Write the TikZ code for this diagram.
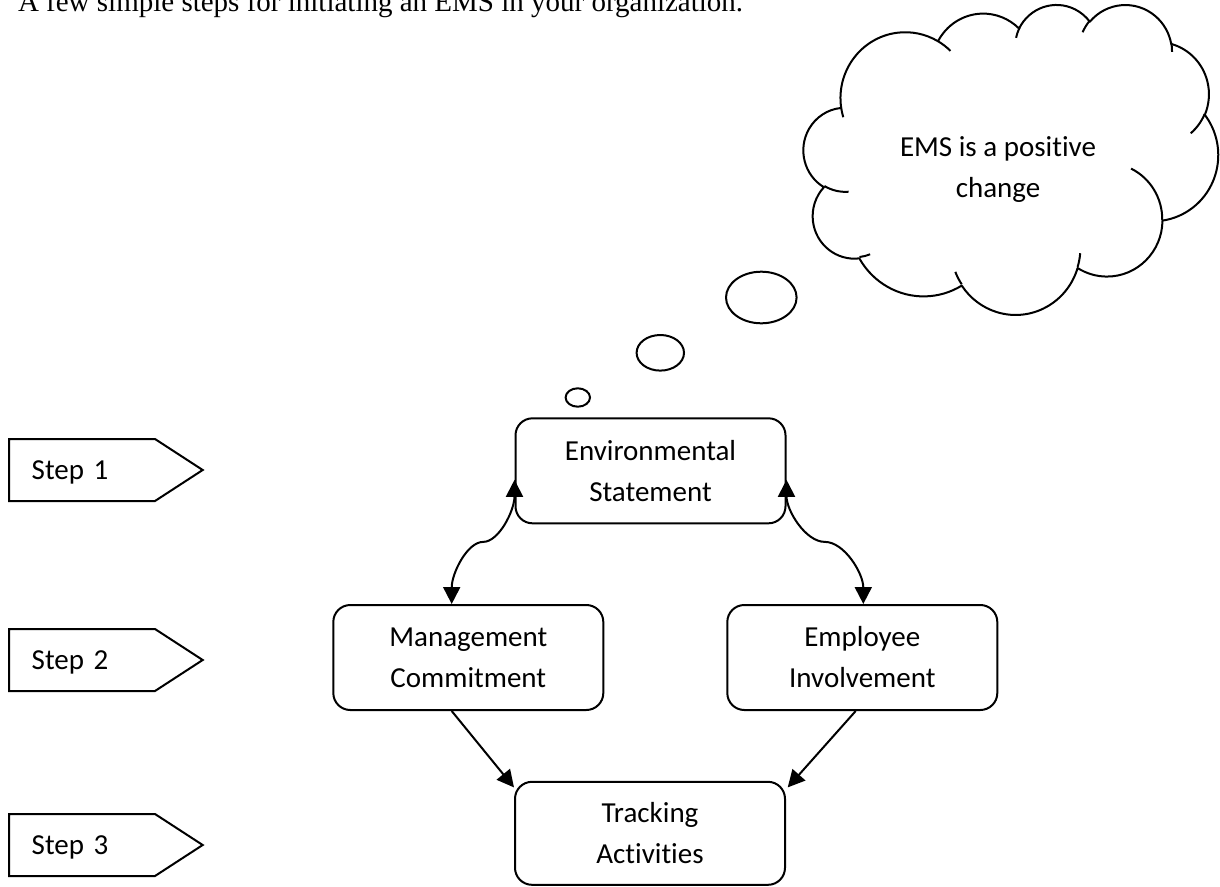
\documentclass[tikz,border=0pt]{standalone}
\usepackage{fontspec}
\newfontfamily\carl[Ligatures=NoCommon]{Carlito}
\newfontfamily\timesf{Liberation Serif}
\usetikzlibrary{arrows.meta,calc}
\begin{document}
\begin{tikzpicture}[x=1pt,y=-1pt,
  line width=2pt,
  lbl/.style={font=\carl\fontsize{29}{41}\selectfont},
  box/.style={lbl, draw, rounded corners=17pt, minimum width=270pt, minimum height=105pt, align=center, inner sep=0pt},
  stepbox/.style={lbl, minimum width=144pt, minimum height=60pt, inner sep=0pt, text width=100.6pt, align=left, text height=19pt, text depth=0pt},
  stepline/.style={draw, line join=miter},
  conn/.style={-{Triangle[length=17pt,width=17pt]}},
  biconn/.style={{Triangle[length=17pt,width=17pt]}-{Triangle[length=17pt,width=17pt]}},
  oarc/.style n args={4}{insert path={arc[start angle={atan2((#1)*sin(#3),(#2)*cos(#3))}, end angle={atan2((#1)*sin(#3),(#2)*cos(#3))+Mod(atan2((#1)*sin((#3)+(#4)),(#2)*cos((#3)+(#4)))-atan2((#1)*sin(#3),(#2)*cos(#3)),360)}, x radius=#1, y radius=#2]}}
]
\fill[white] (0,0) rectangle (1220,886);
\useasboundingbox (0,0) rectangle (1220,886);

% title (partly cut at the top, as in the reference)
\node[anchor=base west, inner sep=0pt, font=\timesf\fontsize{29}{35}\selectfont] (title) at (17,11.7) {A few simple steps for initiating an EMS in your organization.};

% cloud
\begin{scope}[shift={(803.65,3.95)}, x=9.593pt, y=-7.173pt]
 \draw[line join=round] (3.900,14.370)
   [oarc={6.753}{9.190}{-190.488}{123.781}]
   [oarc={5.333}{7.267}{-144.102}{89.945}]
   [oarc={4.365}{5.945}{-145.808}{99.723}]
   [oarc={4.857}{6.595}{-130.986}{117.242}]
   [oarc={5.333}{7.273}{-78.709}{109.027}]
   [oarc={6.775}{9.220}{-46.267}{130.269}]
   [oarc={5.785}{7.867}{0.625}{114.033}]
   [oarc={6.752}{9.215}{22.452}{115.173}]
   [oarc={7.720}{10.543}{66.243}{75.711}]
   [oarc={4.360}{5.918}{-274.942}{146.736}]
   [oarc={4.345}{5.945}{-246.829}{152.519}]
   -- cycle;
 \draw (4.693,26.177) [oarc={4.345}{5.945}{86.742}{26.430}]
   (6.928,34.899) [oarc={4.360}{5.918}{73.610}{11.447}]
   (16.478,39.090) [oarc={6.752}{9.215}{137.624}{14.081}]
   (28.827,34.751) [oarc={6.752}{9.215}{6.453}{15.998}]
   (34.129,22.954) [oarc={5.785}{7.867}{-70.292}{70.917}]
   (41.798,15.354) [oarc={5.333}{7.273}{30.318}{27.752}]
   (38.324,5.426) [oarc={4.857}{6.595}{-13.744}{14.859}]
   (29.078,3.952) [oarc={4.857}{6.595}{-149.181}{18.195}]
   (22.141,4.720) [oarc={4.365}{5.945}{-163.494}{17.686}]
   (14.000,5.192) [oarc={6.753}{9.190}{-66.707}{12.319}]
   (4.127,15.789) [oarc={6.753}{9.190}{157.654}{11.858}];
\end{scope}
\node[lbl, align=center, inner sep=0pt] (cloudtext) at (998,170) {EMS is a positive\\change};

% thought bubbles
\draw (761.3,297.5) ellipse [x radius=35.3, y radius=25.8];
\draw (660.3,352.8) ellipse [x radius=23.7, y radius=17.8];
\draw (577.8,397.5) ellipse [x radius=12.2, y radius=9.2];

% steps
\node[stepbox] (s1) at (82,470) {Step 1};
\node[stepbox] (s2) at (82,660) {Step 2};
\node[stepbox] (s3) at (82,845) {Step 3};
\foreach \s in {s1,s2,s3}
  \draw[stepline] (\s.north west) -- (\s.north east) -- ([xshift=47.7pt]\s.east) -- (\s.south east) -- (\s.south west) -- cycle;

% boxes
\node[box] (es) at (650.5,470.8) {Environmental\\Statement};
\node[box] (mc) at (468.3,657.5) {Management\\Commitment};
\node[box] (ei) at (862.3,657.5) {Employee\\Involvement};
\node[box, minimum height=103pt] (ta) at (650,833.3) {Tracking\\Activities};

% curved connectors
\coordinate (l1) at ([yshift=-9pt]es.west);
\coordinate (l2) at ([xshift=-16.6pt]mc.north);
\coordinate (lm) at ($(l1)!0.5!(l2)$);
\draw[biconn] (l1) .. controls ([yshift=-30.8pt]l1) and ([xshift=15.8pt]lm) .. (lm)
  .. controls ([xshift=-15.8pt]lm) and ([yshift=30.8pt]l2) .. (l2);
\coordinate (r1) at ([yshift=-9pt]es.east);
\coordinate (r2) at ([xshift=1pt]ei.north);
\coordinate (rm) at ($(r1)!0.5!(r2)$);
\draw[biconn] (r1) .. controls ([yshift=-30.8pt]r1) and ([xshift=-19.3pt]rm) .. (rm)
  .. controls ([xshift=19.3pt]rm) and ([yshift=30.8pt]r2) .. (r2);

% straight connectors
\draw[conn] ([xshift=-16.6pt]mc.south) -- ([yshift=-6.6pt]ta.north west);
\draw[conn] ([xshift=-6.6pt]ei.south) -- ([xshift=1.7pt,yshift=-6.6pt]ta.north east);
\end{tikzpicture}
\end{document}
